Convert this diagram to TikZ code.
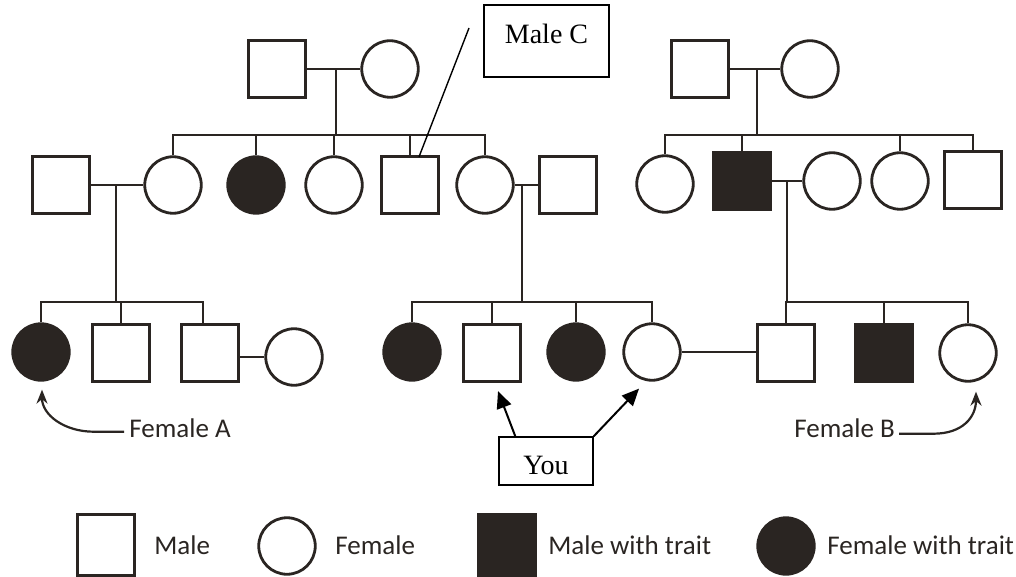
\documentclass[tikz,border=0pt]{standalone}
\usepackage{fontspec}
\setmainfont{Liberation Serif}
\newfontfamily\legendfont{Carlito}
\usetikzlibrary{arrows.meta}
\definecolor{pedink}{RGB}{42,37,34}

\begin{document}
\begin{tikzpicture}[x=1pt,y=-1pt,color=pedink,line width=2.8pt,
  malesym/.style={draw=pedink,line width=2.8pt,fill=white,minimum size=57.5pt,inner sep=0pt},
  femsym/.style={circle,draw=pedink,line width=2.8pt,fill=white,minimum size=56.5pt,inner sep=0pt},
  maletr/.style={malesym,fill=pedink},
  femtr/.style={femsym,fill=pedink},
  labelbox/.style={draw=black,text=black,line width=1.4pt,inner sep=0pt,font=\fontsize{28}{32}\selectfont},
  sanslabel/.style={font=\legendfont\fontsize{27}{30}\selectfont,inner sep=0pt,text=pedink},
  youarrow/.style={line width=2pt,draw=black,-{Triangle[length=17pt,width=15pt]}},
  noteline/.style={line width=2.2pt,draw=pedink,-{Stealth[length=14pt,width=11pt]}}]
\useasboundingbox (0,0) rectangle (1016,577);
% generation I
\node[malesym] (g1m) at (277,69) {};
\node[femsym] (g1f) at (390,69) {};
\node[malesym] (g2m) at (700,69) {};
\node[femsym] (g2f) at (810,69) {};
% generation II
\node[malesym] (s1) at (61,185) {};
\node[femsym] (a1) at (173,185) {};
\node[femtr] (a2) at (256,185) {};
\node[femsym] (a3) at (334,185) {};
\node[malesym] (a4) at (410,185) {};
\node[femsym] (a5) at (485,185) {};
\node[malesym] (s2) at (568,185) {};
\node[femsym] (b1) at (665,184) {};
\node[maletr] (b2) at (742,181) {};
\node[femsym] (b3) at (832,181) {};
\node[femsym] (b4) at (900,181) {};
\node[malesym] (b5) at (973,180) {};
% generation III
\node[femtr] (c1) at (41,352) {};
\node[malesym] (c2) at (121,353) {};
\node[malesym] (c3) at (210,353) {};
\node[femsym] (c4) at (294,357) {};
\node[femtr] (d1) at (412,352) {};
\node[malesym] (d2) at (492,353) {};
\node[femtr] (d3) at (576,352) {};
\node[femsym] (d4) at (652,352) {};
\node[malesym] (e1) at (786,353) {};
\node[maletr] (e2) at (884,353) {};
\node[femsym] (e3) at (968,353) {};
% junctions
\coordinate (m1) at (336,69); \coordinate (k1) at (336,135);
\coordinate (m2) at (757,69); \coordinate (k2) at (757,135);
\coordinate (m3) at (116,185); \coordinate (k3) at (116,302);
\coordinate (m4) at (522,185); \coordinate (k4) at (522,302);
\coordinate (m5) at (787,181); \coordinate (k5) at (787,302);
% couples
\draw (g1m) -- (g1f);
\draw (g2m) -- (g2f);
\draw (s1) -- (a1);
\draw (a5) -- (s2);
\draw (b2) -- (b3);
\draw (c4.west) -- (c4.west -| c3.east);
\draw (d4.east) -- (d4.east -| e1.west);
% children
\draw (m1) -- (k1);
\draw (a1) |- (k1) -| (a5);
\foreach \n in {a2,a3,a4} \draw (\n.north) -- (\n.north |- k1);
\draw (m2) -- (k2);
\draw (b1) |- (k2) -| (b5);
\foreach \n in {b2,b4} \draw (\n.north) -- (\n.north |- k2);
\draw (m3) -- (k3);
\draw (c1) |- (k3) -| ([xshift=-7pt]c3.north);
\draw (c2.north) -- (c2.north |- k3);
\draw (m4) -- (k4);
\draw (d1) |- (k4) -| (d4);
\foreach \n in {d2,d3} \draw (\n.north) -- (\n.north |- k4);
\draw (m5) -- (k5);
\draw (e1) |- (k5) -| (e3);
\draw (e2.north) -- (e2.north |- k5);
% notes
\node[labelbox,minimum width=125pt,minimum height=72pt,text depth=15pt] (malec) at (546.5,41) {Male C};
\coordinate (cptr) at (469,28);
\draw[line width=1.4pt,black] (cptr) -- ([xshift=9pt,yshift=-2pt]a4.north);
\node[labelbox,minimum width=94pt,minimum height=48pt,
  path picture={\clip ([yshift=-14pt]path picture bounding box.west) rectangle (path picture bounding box.north east);
    \node[anchor=base,inner sep=0pt,font=\fontsize{28}{32}\selectfont] (youtext) at ([yshift=-13pt]path picture bounding box.center) {You};}] (you) at (546,461) {};
\draw[youarrow] ([xshift=17pt]you.north west) -- ([xshift=6pt,yshift=-8pt]d2.south);
\draw[youarrow] (you.north east) -- ([xshift=-13pt,yshift=-7pt]d4.south);
\node[sanslabel,anchor=base west] (femA) at (128,437) {Female A};
\node[sanslabel,anchor=base west] (femB) at (793,437) {Female B};
\draw[noteline] ([xshift=-4pt,yshift=-4pt]femA.west) -- ++(-30,0) .. controls +(-30,0) and +(0,25) .. ([xshift=1pt,yshift=-8pt]c1.south);
\draw[noteline] ([xshift=3pt,yshift=-6pt]femB.east) -- ++(34,0) .. controls +(30,0) and +(0,25) .. ([xshift=8pt,yshift=-9pt]e3.south);
% legend
\node[malesym,minimum height=61pt] (lgm) at (106,545) {};
\node[sanslabel,anchor=west] (lgmtext) at (153,545) {Male};
\node[femsym] (lgf) at (287,546) {};
\node[sanslabel,anchor=west] (lgftext) at (334,545) {Female};
\node[maletr,minimum height=61pt] (lgmt) at (507,545) {};
\node[sanslabel,anchor=west] (lgmttext) at (547,545) {Male with trait};
\node[femtr] (lgft) at (786,546) {};
\node[sanslabel,anchor=west] (lgfttext) at (826,545) {Female with trait};
\end{tikzpicture}
\end{document}
